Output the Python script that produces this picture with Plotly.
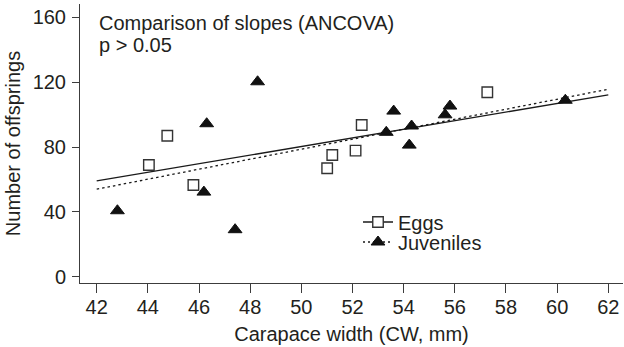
import plotly.graph_objects as go

# ---- data ----
eggs_cw = [44.04, 44.76, 45.78, 51.01, 51.21, 52.12, 52.36, 57.27]
eggs_n = [68.9, 87.0, 56.6, 66.9, 75.1, 77.8, 93.6, 113.8]

juv_cw = [42.81, 46.19, 46.30, 47.41, 48.29, 53.32, 53.61, 54.22, 54.31, 55.62, 55.81, 60.32]
juv_n = [40.7, 52.2, 94.4, 29.0, 120.3, 89.1, 102.2, 81.2, 93.0, 99.9, 105.3, 108.9]

# fitted regression lines (end values)
fit_cw = [42, 62]
eggs_fit_n = [59.1, 112.2]
juv_fit_n = [54.0, 115.7]

x_ticks = [42, 44, 46, 48, 50, 52, 54, 56, 58, 60, 62]
y_ticks = [0, 40, 80, 120, 160]

FONT = "Liberation Sans, Arial, sans-serif"
TXT = "#231f20"
AX = "#3c3c3c"

fig = go.Figure()

fig.add_trace(go.Scatter(x=fit_cw, y=eggs_fit_n, mode="lines",
                         line=dict(color="#1a1a1a", width=1.3), showlegend=False,
                         hoverinfo="skip"))
fig.add_trace(go.Scatter(x=fit_cw, y=juv_fit_n, mode="lines",
                         line=dict(color="#1a1a1a", width=1.3, dash="2.5px,3px"),
                         showlegend=False, hoverinfo="skip"))

fig.add_trace(go.Scatter(x=eggs_cw, y=eggs_n, mode="markers", showlegend=False,
                         marker=dict(symbol="square", size=10.5, color="white",
                                     line=dict(color="#333333", width=1.4))))
fig.add_trace(go.Scatter(x=juv_cw, y=juv_n, mode="markers", showlegend=False,
                         marker=dict(symbol="triangle-up", size=12, color="#111111",
                                     line=dict(color="#111111", width=1))))

# legend entries (combined line + marker), one legend each for exact row spacing
fig.add_trace(go.Scatter(x=[None], y=[None], mode="lines+markers", name="Eggs",
                         legend="legend",
                         line=dict(color="#1a1a1a", width=1.3),
                         marker=dict(symbol="square", size=10.5, color="white",
                                     line=dict(color="#333333", width=1.4))))
fig.add_trace(go.Scatter(x=[None], y=[None], mode="lines+markers", name="Juveniles",
                         legend="legend2",
                         line=dict(color="#1a1a1a", width=1.3, dash="2px,3px"),
                         marker=dict(symbol="triangle-up", size=12, color="#111111",
                                     line=dict(color="#111111", width=1))))

W, H = 624, 347
ml, mr, mt, mb = 80, 1, 4, 64
ph = H - mt - mb

def py(p):
    return (H - mb - p) / ph

def px(p):
    return (p - ml) / (W - ml - mr)

leg_common = dict(xanchor="left", yanchor="top", bgcolor="rgba(0,0,0,0)",
                  font=dict(size=20, color=TXT), itemwidth=30)

fig.update_layout(
    template="none",
    width=W, height=H,
    margin=dict(l=ml, r=mr, t=mt, b=mb, pad=0, autoexpand=False),
    paper_bgcolor="white", plot_bgcolor="white",
    font=dict(family=FONT, size=20, color=TXT),
    showlegend=True,
    legend=dict(x=px(358), y=py(202.5), **leg_common),
    legend2=dict(x=px(358), y=py(222.5), **leg_common),
    xaxis=dict(range=[41.347, 62.575], tickvals=x_ticks, ticks="outside",
               ticklen=9, tickwidth=1, tickcolor=AX, showline=True,
               linecolor=AX, linewidth=1, showgrid=False, zeroline=False,
               automargin=False, ticklabelstandoff=-3,
               tickfont=dict(size=20, color=TXT),
               title=dict(text="Carapace width (CW, mm)", standoff=9,
                          font=dict(size=20, color=TXT))),
    yaxis=dict(range=[-3.9, 168.3], tickvals=y_ticks, ticks="outside",
               ticklen=7, tickwidth=1, tickcolor=AX, showline=True,
               linecolor=AX, linewidth=1, showgrid=False, zeroline=False,
               automargin=False, ticklabelstandoff=2,
               tickfont=dict(size=20, color=TXT),
               title=dict(text="Number of offsprings", standoff=6,
                          font=dict(size=20, color=TXT))),
    annotations=[
        dict(text="Comparison of slopes (ANCOVA)", xref="paper", yref="paper",
             x=px(97), y=py(9.5), xanchor="left", yanchor="top", showarrow=False,
             font=dict(size=20, color=TXT)),
        dict(text="p > 0.05", xref="paper", yref="paper",
             x=px(97), y=py(32), xanchor="left", yanchor="top", showarrow=False,
             font=dict(size=20, color=TXT)),
    ],
)

fig.write_html("out.html", config={"displayModeBar": False},
               post_script="document.body.style.margin='0px';")
